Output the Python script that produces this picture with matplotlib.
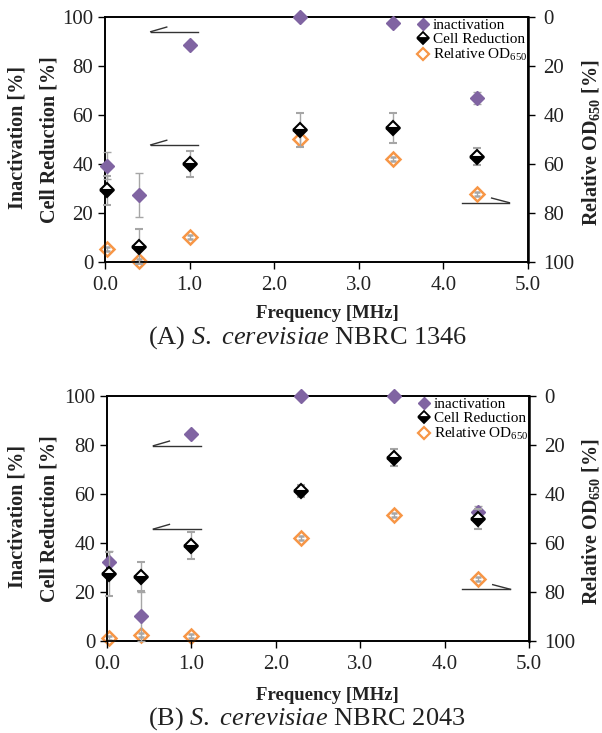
import numpy as np
import matplotlib
matplotlib.use('Agg')
import matplotlib.pyplot as plt
from matplotlib.lines import Line2D

plt.rcParams['font.family'] = ['Liberation Serif', 'DejaVu Serif']
plt.rcParams['mathtext.fontset'] = 'custom'
plt.rcParams['mathtext.rm'] = 'Liberation Serif'
plt.rcParams['mathtext.it'] = 'Liberation Serif:italic'
plt.rcParams['mathtext.bf'] = 'Liberation Serif:bold'

# frequencies [MHz]
freq = [0.02, 0.4, 1.0, 2.3, 3.4, 4.4]

# (A) S. cerevisiae NBRC 1346
inact_A = [39.3, 27.5, 88.7, 100.0, 97.5, 67.0]
inact_A_err = [5.5, 9.0, 0.0, 0.0, 0.0, 2.5]
cell_A = [29.2, 6.3, 40.0, 53.8, 54.7, 43.0]
cell_A_err = [6.0, 7.0, 5.2, 7.0, 6.2, 3.5]
od_A = [94.8, 99.6, 89.8, 49.8, 57.8, 72.4]
od_A_err = [0.8, 0.8, 0.8, 3.0, 0.8, 0.8]

# (B) S. cerevisiae NBRC 2043
inact_B = [32.1, 10.2, 84.6, 100.0, 100.0, 52.8]
inact_B_err = [4.5, 10.0, 0.0, 0.0, 0.0, 2.5]
cell_B = [27.5, 26.3, 38.8, 61.2, 74.8, 49.7]
cell_B_err = [9.0, 6.0, 5.5, 2.5, 3.5, 4.0]
od_B = [98.9, 97.7, 97.8, 58.1, 48.6, 74.7]
od_B_err = [0.8, 0.8, 0.8, 0.8, 0.8, 0.8]

# axis indicator half-arrows (x0, x1, y) left axis / right axis
ind_left_A = [(0.54, 1.10, 94.0), (0.54, 1.10, 47.8)]
ind_right_A = (4.22, 4.78, 75.8)
ind_left_B = [(0.55, 1.11, 79.7), (0.55, 1.11, 45.7)]
ind_right_B = (4.21, 4.78, 78.9)

captions = [r'(A) $\it{S.}$ $\it{cerevisiae}$ NBRC 1346',
            r'(B) $\it{S.}$ $\it{cerevisiae}$ NBRC 2043']

purple = '#8064A2'
orange = '#F79646'
errc = '#A6A6A6'

W, H = 602, 733
fig = plt.figure(figsize=(W/100, H/100), dpi=100)


def panel(rect, inact, inact_err, cell, cell_err, od, od_err,
          ind_left, ind_right, caption, xlab_y, cap_y):
    ax = fig.add_axes(rect)
    ax2 = ax.twinx()
    ax.set_zorder(2)
    ax.patch.set_visible(False)

    ax.errorbar(freq, inact, yerr=inact_err, fmt='D', ms=7, mfc=purple, mec=purple,
                ecolor=errc, elinewidth=1, capsize=3, zorder=3, clip_on=False)
    ax.errorbar(freq, cell, yerr=cell_err, fmt='D', ms=7, mfc='black', mec='black',
                mfcalt='white', fillstyle='bottom', mew=1.5,
                ecolor=errc, elinewidth=1, capsize=3, zorder=4, clip_on=False)
    ax2.errorbar(freq, od, yerr=od_err, fmt='D', ms=7, mfc='none', mec=orange, mew=1.8,
                 ecolor=errc, elinewidth=1, capsize=2.5, zorder=3, clip_on=False)

    for x0, x1, y in ind_left:
        ax.plot([x0, x1], [y, y], color='#333333', lw=1, zorder=1)
        ax.plot([x0, x0 + 0.19], [y, y + 1.9], color='#333333', lw=1, zorder=1)
    x0, x1, y = ind_right
    ax2.plot([x0, x1], [y, y], color='#333333', lw=1)
    ax2.plot([x1 - 0.21, x1], [y - 1.9, y], color='#333333', lw=1)

    ax.set_xlim(0, 5)
    ax.set_ylim(0, 100)
    ax2.set_ylim(100, 0)
    ax.set_xticks(np.arange(0, 5.1, 1.0))
    ax.set_xticklabels(['%.1f' % v for v in np.arange(0, 5.1, 1.0)])
    ax.set_yticks(np.arange(0, 101, 20))
    ax2.set_yticks(np.arange(0, 101, 20))
    for a in (ax, ax2):
        a.tick_params(direction='out', length=5, width=1, labelsize=15, colors='black',
                      labelcolor='#222222')
        for s in a.spines.values():
            s.set_linewidth(1.2)
    ax.tick_params(axis='x', pad=5)
    ax2.tick_params(axis='y', pad=6)
    ax2.spines['right'].set_linewidth(1.8)

    handles = [Line2D([], [], marker='D', ls='none', ms=6, mfc=purple, mec=purple),
               Line2D([], [], marker='D', ls='none', ms=6, mfc='black', mec='black',
                      mfcalt='white', fillstyle='bottom', mew=1.3),
               Line2D([], [], marker='D', ls='none', ms=6, mfc='none', mec=orange, mew=1.6)]
    ax.legend(handles, ['inactivation', 'Cell Reduction', r'Relative OD$_{650}$'],
              loc='upper left', bbox_to_anchor=(0.737, 0.995), frameon=False, fontsize=11,
              handlelength=0.8, handletextpad=0.25, labelspacing=0.05, borderaxespad=0.0,
              borderpad=0.0)

    cy = rect[1] + rect[3] / 2
    fig.text(18 / W, cy + 2 / H, 'Inactivation [%]', rotation=90, ha='center', va='center',
             fontsize=14.5, fontweight='bold', color='#222222')
    fig.text(50 / W, cy, 'Cell Reduction [%]', rotation=90, ha='center', va='center',
             fontsize=14.5, fontweight='bold', color='#222222')
    fig.text(591 / W, cy - 3 / H, r'Relative OD$_{\mathbf{650}}$ [%]', rotation=90,
             ha='center', va='center', fontsize=14.5, fontweight='bold', color='#222222')
    fig.text(327 / W, 1 - xlab_y / H, 'Frequency [MHz]', ha='center',
             va='center', fontsize=13.5, fontweight='bold', color='#222222')
    fig.text(148 / W, 1 - cap_y / H, caption, ha='left', va='center',
             fontsize=19, color='#222222')


panel([105 / W, 1 - 262 / H, 423 / W, 245 / H], inact_A, inact_A_err, cell_A, cell_A_err,
      od_A, od_A_err, ind_left_A, ind_right_A, captions[0], 314, 338)
panel([107 / W, 1 - 641 / H, 422 / W, 245 / H], inact_B, inact_B_err, cell_B, cell_B_err,
      od_B, od_B_err, ind_left_B, ind_right_B, captions[1], 695, 719)

fig.savefig('out.png', dpi=100)
